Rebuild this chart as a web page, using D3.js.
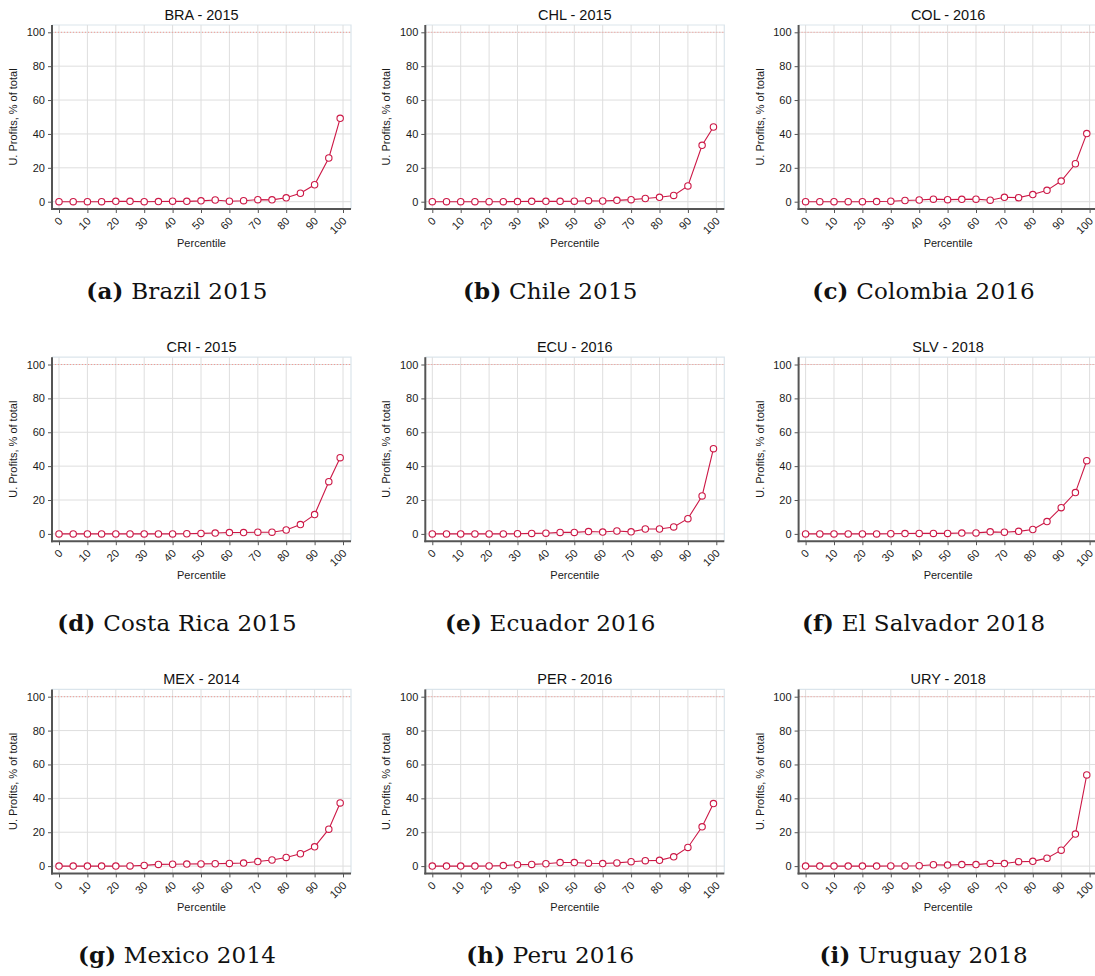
<!DOCTYPE html>
<meta charset="utf-8">
<script src="https://cdn.jsdelivr.net/npm/d3@7"></script>
<style>
body { margin: 0; background: #fff; }
svg { display: block; }
.tick text { font: 11px "Liberation Sans", Arial, sans-serif; fill: #1a1a1a; }
.ptitle { font: 14.5px "Liberation Sans", Arial, sans-serif; fill: #111; }
.alabel { font: 11px "Liberation Sans", Arial, sans-serif; fill: #1a1a1a; }
.caption { font: 23px "DejaVu Serif", serif; fill: #111; letter-spacing: 0.2px; }
.grid line { stroke: #dedede; stroke-width: 1; }
</style>
<body>
<div id="chart"></div>
<script>
// percentile points (last one is p99)
var pctl = [0, 5, 10, 15, 20, 25, 30, 35, 40, 45, 50, 55, 60, 65, 70, 75, 80, 85, 90, 95, 99];

// series values, % of total
var bra = [0, 0, 0, 0, 0.2, 0.2, 0, 0.1, 0.3, 0.2, 0.5, 1.0, 0.3, 0.6, 1.2, 1.1, 2.3, 5.0, 10.0, 25.8, 49.2];
var chl = [0, 0, 0, 0, 0, 0, 0.1, 0.2, 0.2, 0.2, 0.3, 0.6, 0.4, 0.8, 1.2, 1.9, 2.6, 3.7, 9.3, 33.3, 44.1];
var col = [0, 0, 0, 0, 0, 0.1, 0.3, 0.7, 1.0, 1.5, 1.2, 1.4, 1.5, 0.9, 2.6, 2.4, 4.2, 6.7, 12.2, 22.4, 40.2];
var cri = [0, 0, 0, 0, 0, 0, 0, 0, 0, 0.1, 0.3, 0.5, 0.8, 0.8, 1.0, 1.0, 2.3, 5.5, 11.4, 30.8, 45.0];
var ecu = [0, 0, 0, 0, 0, 0, 0.1, 0.3, 0.4, 0.9, 0.9, 1.4, 1.1, 1.7, 1.2, 2.9, 2.9, 4.1, 9.0, 22.4, 50.3];
var slv = [0, 0, 0, 0, 0, 0, 0.1, 0.2, 0.3, 0.3, 0.3, 0.5, 0.6, 1.2, 1.0, 1.5, 2.6, 7.3, 15.5, 24.4, 43.2];
var mex = [0, 0, 0, 0, 0, 0.1, 0.4, 1.0, 1.1, 1.2, 1.3, 1.4, 1.6, 1.8, 2.7, 3.6, 5.1, 7.3, 11.4, 21.8, 37.3];
var per = [0, 0, 0, 0, 0.1, 0.3, 0.8, 1.0, 1.4, 2.1, 2.1, 1.7, 1.5, 1.9, 2.6, 3.2, 3.4, 5.5, 11.0, 23.2, 36.9];
var ury = [0, 0, 0, 0, 0, 0, 0.1, 0.1, 0.2, 0.8, 0.6, 0.9, 0.9, 1.6, 1.5, 2.6, 2.8, 4.7, 9.4, 18.9, 53.8];

var series = [bra, chl, col, cri, ecu, slv, mex, per, ury];
var titles = ["BRA - 2015", "CHL - 2015", "COL - 2016", "CRI - 2015", "ECU - 2016",
              "SLV - 2018", "MEX - 2014", "PER - 2016", "URY - 2018"];
var letters = ["(a)", "(b)", "(c)", "(d)", "(e)", "(f)", "(g)", "(h)", "(i)"];
var names = ["Brazil 2015", "Chile 2015", "Colombia 2016", "Costa Rica 2015", "Ecuador 2016",
             "El Salvador 2018", "Mexico 2014", "Peru 2016", "Uruguay 2018"];

var xTicks = [0, 10, 20, 30, 40, 50, 60, 70, 80, 90, 100];
var yTicks = [0, 20, 40, 60, 80, 100];
var refLine = 100;

var width = 1095, height = 976;
var colStep = 373.3, rowStep = 332.2;
var lineColor = "#cc1846";

// plot frame inside one panel
var fl = 52, fr = 351, ft = 25, fb = 209;

var x = d3.scaleLinear().domain([0, 100]).range([59, 343]);
var y = d3.scaleLinear().domain([0, 100]).range([201.7, 32.3]);

var svg = d3.select("#chart").append("svg")
    .attr("width", width)
    .attr("height", height);

series.forEach(function(vals, i) {
    var c = i % 3, r = Math.floor(i / 3);
    var g = svg.append("g")
        .attr("transform", "translate(" + (c * colStep) + "," + (r * rowStep) + ")");

    // plot region frame (top/right light border)
    g.append("path")
        .attr("d", "M" + fl + "," + ft + "H" + fr + "V" + fb)
        .attr("fill", "none")
        .attr("stroke", "#dbe5ec")
        .attr("stroke-width", 1.2);

    // grid
    var grid = g.append("g").attr("class", "grid");
    grid.selectAll(".vg").data(xTicks).enter().append("line")
        .attr("x1", d => x(d)).attr("x2", d => x(d))
        .attr("y1", ft).attr("y2", fb);
    grid.selectAll(".hg").data(yTicks).enter().append("line")
        .attr("x1", fl).attr("x2", fr)
        .attr("y1", d => y(d)).attr("y2", d => y(d));

    // dotted reference line at 100
    g.append("line")
        .attr("x1", fl).attr("x2", fr)
        .attr("y1", y(refLine)).attr("y2", y(refLine))
        .attr("stroke", "#f49a94")
        .attr("stroke-width", 1)
        .attr("stroke-dasharray", "1,2");

    // y axis
    var ya = g.append("g")
        .attr("transform", "translate(" + fl + ",0)")
        .call(d3.axisLeft(y).tickValues(yTicks).tickSize(4).tickPadding(3));
    ya.select(".domain").remove();
    ya.selectAll(".tick line").attr("stroke", "#555");
    g.append("line")
        .attr("x1", fl).attr("x2", fl).attr("y1", ft).attr("y2", fb + 1)
        .attr("stroke", "#555").attr("stroke-width", 2);

    // x axis
    var xa = g.append("g")
        .attr("transform", "translate(0," + fb + ")")
        .call(d3.axisBottom(x).tickValues(xTicks).tickSize(4));
    xa.select(".domain").remove();
    xa.selectAll(".tick line").attr("stroke", "#555");
    xa.selectAll(".tick text")
        .attr("text-anchor", "end")
        .attr("x", 0).attr("y", 0).attr("dy", "0.35em")
        .attr("transform", "translate(1,10) rotate(-45)");
    g.append("line")
        .attr("x1", fl - 1).attr("x2", fr).attr("y1", fb).attr("y2", fb)
        .attr("stroke", "#555").attr("stroke-width", 2);

    // line + hollow markers
    var pts = pctl.map((p, k) => [p, vals[k]]);
    g.append("path")
        .datum(pts)
        .attr("fill", "none")
        .attr("stroke", lineColor)
        .attr("stroke-width", 1.1)
        .attr("d", d3.line().x(d => x(d[0])).y(d => y(d[1])));
    g.selectAll(".pt").data(pts).enter().append("circle")
        .attr("cx", d => x(d[0]))
        .attr("cy", d => y(d[1]))
        .attr("r", 3.2)
        .attr("fill", "#fff")
        .attr("stroke", lineColor)
        .attr("stroke-width", 1.1);

    // titles and labels
    g.append("text").attr("class", "ptitle")
        .attr("x", (fl + fr) / 2).attr("y", 19.5)
        .attr("text-anchor", "middle")
        .text(titles[i]);
    g.append("text").attr("class", "alabel")
        .attr("transform", "translate(17," + ((ft + fb) / 2) + ") rotate(-90)")
        .attr("text-anchor", "middle")
        .text("U. Profits, % of total");
    g.append("text").attr("class", "alabel")
        .attr("x", (fl + fr) / 2).attr("y", 247)
        .attr("text-anchor", "middle")
        .text("Percentile");

    // sub-figure caption
    var cap = g.append("text").attr("class", "caption")
        .attr("x", 177).attr("y", 299)
        .attr("text-anchor", "middle");
    cap.append("tspan").attr("font-weight", "bold").text(letters[i]);
    cap.append("tspan").text(" " + names[i]);
});
</script>
</body>
</html>
